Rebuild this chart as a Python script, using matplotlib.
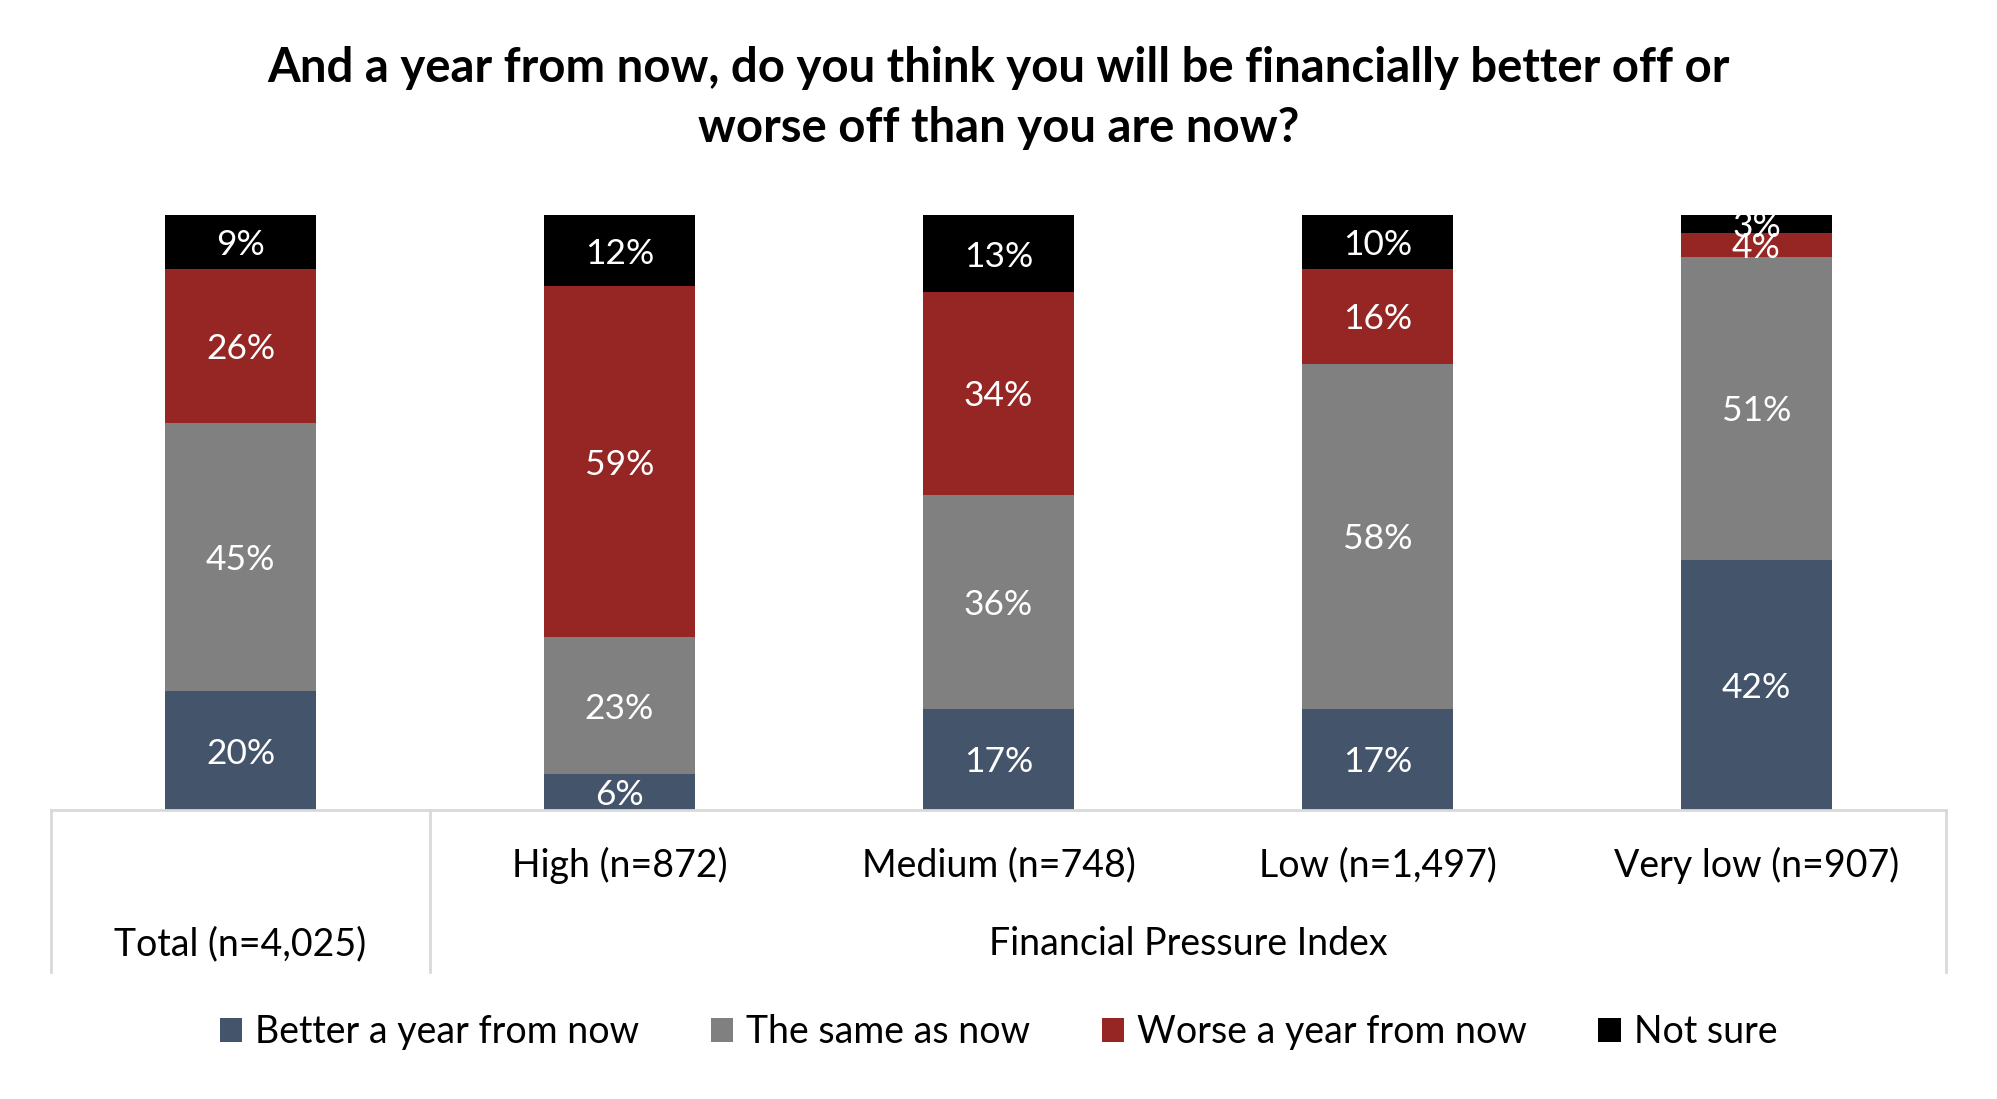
import matplotlib
matplotlib.use("Agg")
import matplotlib.pyplot as plt
from matplotlib.patches import Patch
from matplotlib.lines import Line2D
import numpy as np

plt.rcParams['font.family'] = ['Lato', 'DejaVu Sans']

title = "And a year from now, do you think you will be financially better off or\nworse off than you are now?"
categories = ["Total (n=4,025)", "High (n=872)", "Medium (n=748)", "Low (n=1,497)", "Very low (n=907)"]
group_label = "Financial Pressure Index"
series_names = ["Better a year from now", "The same as now", "Worse a year from now", "Not sure"]
better = [20, 6, 17, 17, 42]
same = [45, 23, 36, 58, 51]
worse = [26, 59, 34, 16, 4]
not_sure = [9, 12, 13, 10, 3]
colors = ["#44546A", "#808080", "#952623", "#000000"]

series = [better, same, worse, not_sure]

W, H = 1997, 1099
fig = plt.figure(figsize=(W / 100, H / 100), dpi=100)
left, right = 51 / W, 1946 / W
bottom, top = 1 - 810 / H, 1 - 215 / H
ax = fig.add_axes([left, bottom, right - left, top - bottom])

x = np.arange(len(categories))
base = np.zeros(len(categories))
for vals, col in zip(series, colors):
    vals = np.array(vals, dtype=float)
    ax.bar(x, vals, bottom=base, width=0.4, color=col, zorder=2)
    for xi, b, v in zip(x, base, vals):
        t = min(b + v, 100)
        yc = (b + t) / 2
        ax.text(xi, yc, f"{int(v)}%", ha="center", va="center_baseline", color="white",
                fontsize=25.5, clip_on=True, zorder=3)
    base = base + vals

ax.set_xlim(-0.5, len(categories) - 0.5)
ax.set_ylim(0, 100)
ax.axis("off")

# category table lines
line_col = "#D9D9D9"
y_end = 1 - 972 / H
fig.add_artist(Line2D([left, right], [bottom, bottom], color=line_col, lw=2, transform=fig.transFigure))
sep = left + (right - left) / len(categories)
for xv in [left, sep, right]:
    fig.add_artist(Line2D([xv, xv], [bottom, y_end], color=line_col, lw=2, transform=fig.transFigure))

# category labels
for i, c in enumerate(categories):
    xc = left + (right - left) * (i + 0.5) / len(categories)
    yc = 1 - (944 if i == 0 else 865) / H
    fig.text(xc, yc, c, ha="center", va="center", fontsize=27, color="black")
fig.text((sep + right) / 2, 1 - 944 / H, group_label, ha="center", va="center", fontsize=27, color="black")

# title
fig.text(0.5, 1 - 98 / H, title, ha="center", va="center", fontsize=34, fontweight="bold",
         linespacing=1.45)

handles = [Patch(facecolor=c, edgecolor="none") for c in colors]
fig.legend(handles, series_names, loc="center", bbox_to_anchor=(0.5, 1 - 1032 / H), ncol=4,
           frameon=False, fontsize=27, handlelength=0.6, handleheight=0.6, handletextpad=0.35,
           columnspacing=1.9)

fig.savefig("out.png", dpi=100)
